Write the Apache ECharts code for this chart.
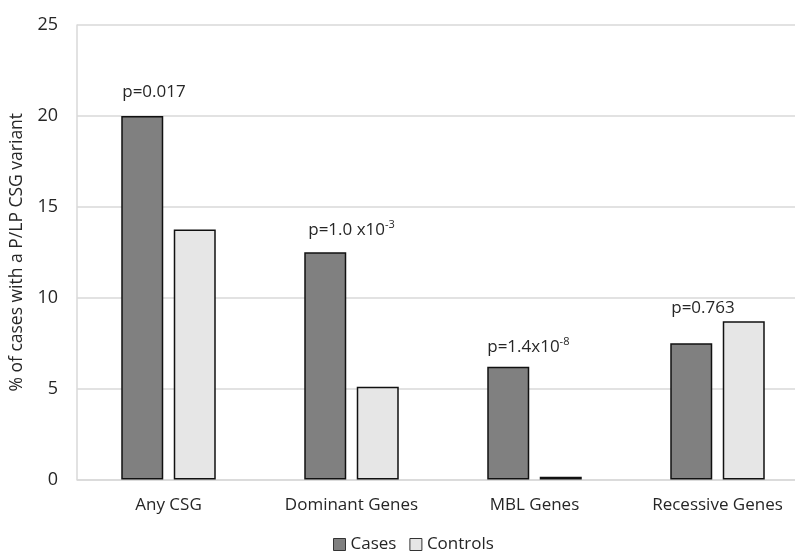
<!DOCTYPE html>
<html>
<head>
<meta charset="utf-8">
<script src="https://cdn.jsdelivr.net/npm/echarts@6/dist/echarts.min.js"></script>
<style>html,body{margin:0;padding:0;background:#fff;overflow:hidden}#c{width:809px;height:554px}</style>
</head>
<body>
<div id="c"></div>
<script>
// ---- data ----
const categories = ['Any CSG', 'Dominant Genes', 'MBL Genes', 'Recessive Genes'];
const casesValues = [20.0, 12.5, 6.2, 7.5];
const controlsValues = [13.75, 5.1, 0.15, 8.7];
const pValueLabels = ['p=0.017', 'p=1.0 x10{sup|-3}', 'p=1.4x10{sup|-8}', 'p=0.763'];
const yTicks = [0, 5, 10, 15, 20, 25];
const seriesNames = ['Cases', 'Controls'];

// ---- layout / style ----
const FONT = 'Open Sans';
const TEXT = '#262626';
const pLabelOffsets = [[-20, -10], [-17, -7], [-21, -4], [-20, -21]];

const chart = echarts.init(document.getElementById('c'));
chart.setOption({
  animation: false,
  textStyle: { fontFamily: FONT, color: TEXT },
  grid: { left: 74, right: 0, top: 25, bottom: 74.5, containLabel: false },
  legend: {
    bottom: -4, left: 328, itemWidth: 12, itemHeight: 12, itemGap: 13,
    icon: 'rect',
    itemStyle: { borderColor: '#333', borderWidth: 1 },
    textStyle: { fontFamily: FONT, fontSize: 17, color: TEXT },
    data: seriesNames
  },
  xAxis: {
    type: 'category', data: categories,
    axisLine: { lineStyle: { color: '#d9d9d9', width: 1.5 } },
    axisTick: { show: false },
    axisLabel: { fontFamily: FONT, fontSize: 17, color: TEXT, margin: 17 }
  },
  yAxis: {
    type: 'value', min: yTicks[0], max: yTicks[yTicks.length - 1], interval: yTicks[1] - yTicks[0],
    name: '% of cases with a P/LP CSG variant', nameLocation: 'middle', nameGap: 51,
    nameTextStyle: { fontFamily: FONT, fontSize: 17.5, color: TEXT },
    axisLine: { show: true, lineStyle: { color: '#d9d9d9', width: 1.5 } },
    axisTick: { show: false },
    splitLine: { lineStyle: { color: '#d9d9d9', width: 1.5 } },
    axisLabel: { fontFamily: FONT, fontSize: 18, color: TEXT, margin: 19 }
  },
  series: [
    {
      name: seriesNames[0], type: 'bar', barWidth: 42, barGap: '25%',
      itemStyle: { color: '#808080', borderColor: '#111', borderWidth: 1.5 },
      label: {
        show: true, position: 'top', align: 'left', distance: 5,
        fontFamily: FONT, fontSize: 17, color: TEXT,
        formatter: p => pValueLabels[p.dataIndex],
        rich: { sup: { fontFamily: FONT, fontSize: 11, color: TEXT, verticalAlign: 'top', padding: [0, 0, 10, 0] } }
      },
      data: casesValues.map((v, i) => ({ value: v, label: { offset: pLabelOffsets[i] } }))
    },
    {
      name: seriesNames[1], type: 'bar', barWidth: 42,
      itemStyle: { color: '#e6e6e6', borderColor: '#111', borderWidth: 1.5 },
      data: controlsValues
    }
  ]
});
</script>
</body>
</html>
